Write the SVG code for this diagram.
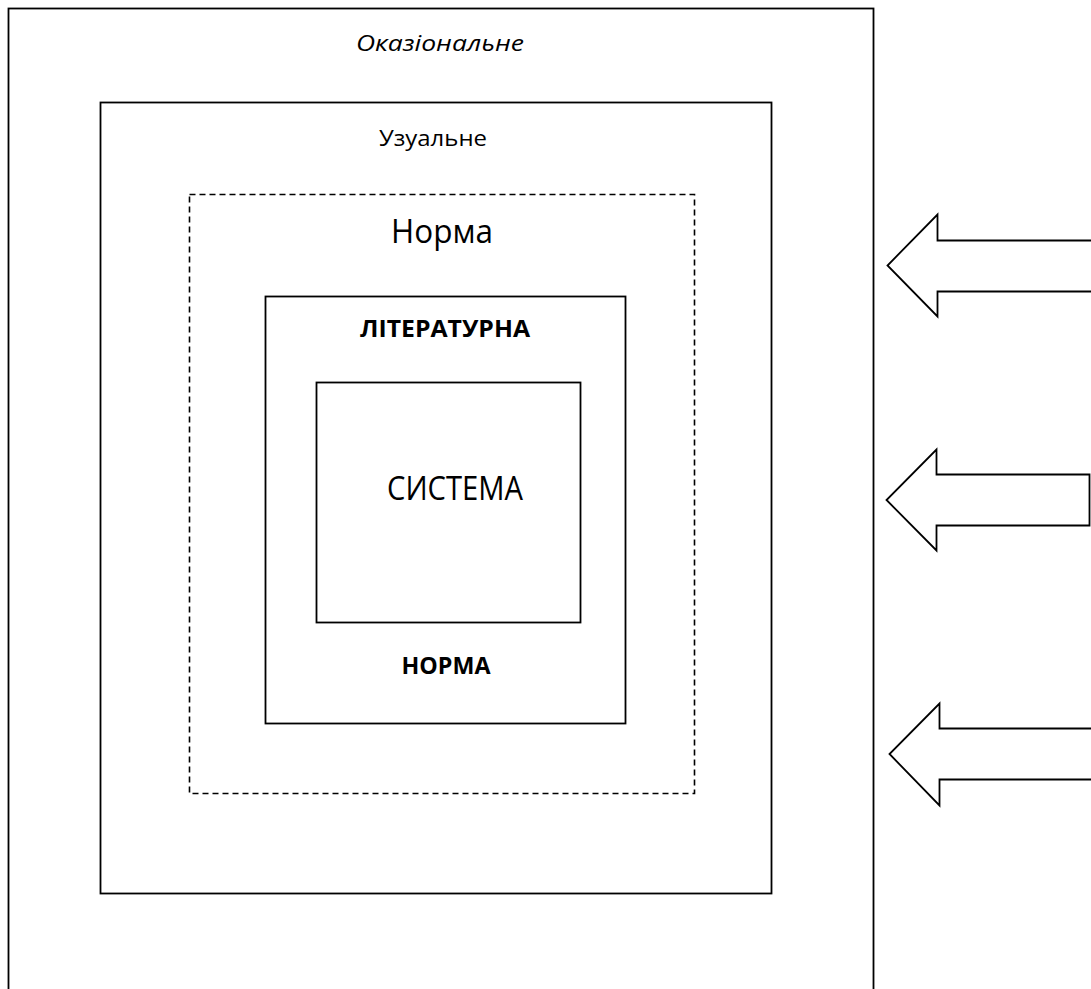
<svg xmlns="http://www.w3.org/2000/svg" width="1091" height="989" viewBox="0 0 1091 989">
<style>
.box{fill:none;stroke:#000;stroke-width:1.8}
.dash{fill:none;stroke:#000;stroke-width:1.6;stroke-dasharray:6,4}
.arr{fill:#fff;stroke:#000;stroke-width:1.8;stroke-linejoin:miter}
text{font-family:"Open Sans","Liberation Sans",sans-serif;fill:#000;text-anchor:middle}
</style>
<rect width="1091" height="989" fill="#fff"/>
<g id="okazionalne">
<rect class="box" x="8.5" y="8.5" width="865" height="1000"/>
<text x="440" y="51" font-size="22" font-style="italic" textLength="168" lengthAdjust="spacingAndGlyphs">Оказіональне</text>
</g>
<g id="uzualne">
<rect class="box" x="100.5" y="102.5" width="671" height="791"/>
<text x="433" y="146" font-size="22" textLength="108" lengthAdjust="spacingAndGlyphs">Узуальне</text>
</g>
<g id="norma">
<rect class="dash" x="189.5" y="194.5" width="505" height="599"/>
<text x="442" y="243" font-size="32" textLength="102" lengthAdjust="spacingAndGlyphs">Норма</text>
</g>
<g id="literaturna">
<rect class="box" x="265.5" y="296.5" width="360" height="427"/>
<text x="445" y="337" font-size="23" font-weight="bold" textLength="170" lengthAdjust="spacingAndGlyphs">ЛІТЕРАТУРНА</text>
<text x="446" y="674" font-size="24" font-weight="bold" textLength="89" lengthAdjust="spacingAndGlyphs">НОРМА</text>
</g>
<g id="systema">
<rect class="box" x="316.5" y="382.5" width="264" height="240"/>
<text x="455" y="500" font-size="32" textLength="136" lengthAdjust="spacingAndGlyphs">СИСТЕМА</text>
</g>
<g id="connectors">
<path class="arr" d="M1095,240.5 H937.5 V214.5 L887.5,265.5 L937.5,316.5 V291.5 H1095"/>
<path class="arr" d="M1089.5,474.5 H936.5 V449.5 L886.5,500 L936.5,550.5 V525.5 H1089.5 Z"/>
<path class="arr" d="M1095,728.5 H939.5 V703.5 L889.5,754 L939.5,805.5 V779.5 H1095"/>
</g>
</svg>
